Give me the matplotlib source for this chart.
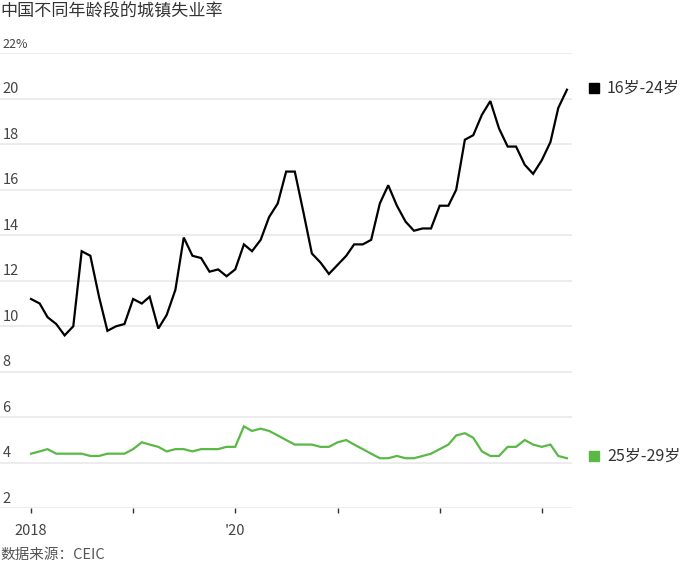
import numpy as np
import pandas as pd
import matplotlib
matplotlib.use("Agg")
import matplotlib.pyplot as plt
import matplotlib.dates as mdates
from matplotlib.transforms import offset_copy, blended_transform_factory

plt.rcParams['font.family'] = ['Noto Sans CJK SC', 'DejaVu Sans']

# 月度数据 2018-01 .. 2023-04
meses = pd.date_range('2018-01-01', periods=64, freq='MS')

jovens_16_24 = [
    11.2, 11.0, 10.4, 10.1, 9.6, 10.0, 13.3, 13.1, 11.3, 9.8, 10.0, 10.1,
    11.2, 11.0, 11.3, 9.9, 10.5, 11.6, 13.9, 13.1, 13.0, 12.4, 12.5, 12.2,
    12.5, 13.6, 13.3, 13.8, 14.8, 15.4, 16.8, 16.8, 15.0, 13.2, 12.8, 12.3,
    12.7, 13.1, 13.6, 13.6, 13.8, 15.4, 16.2, 15.3, 14.6, 14.2, 14.3, 14.3,
    15.3, 15.3, 16.0, 18.2, 18.4, 19.3, 19.9, 18.7, 17.9, 17.9, 17.1, 16.7,
    17.3, 18.1, 19.6, 20.4,
]
adultos_25_29 = [
    4.4, 4.5, 4.6, 4.4, 4.4, 4.4, 4.4, 4.3, 4.3, 4.4, 4.4, 4.4,
    4.6, 4.9, 4.8, 4.7, 4.5, 4.6, 4.6, 4.5, 4.6, 4.6, 4.6, 4.7,
    4.7, 5.6, 5.4, 5.5, 5.4, 5.2, 5.0, 4.8, 4.8, 4.8, 4.7, 4.7,
    4.9, 5.0, 4.8, 4.6, 4.4, 4.2, 4.2, 4.3, 4.2, 4.2, 4.3, 4.4,
    4.6, 4.8, 5.2, 5.3, 5.1, 4.5, 4.3, 4.3, 4.7, 4.7, 5.0, 4.8,
    4.7, 4.8, 4.3, 4.2,
]
series = [
    ('16岁-24岁', jovens_16_24, '#000000'),
    ('25岁-29岁', adultos_25_29, '#5ab946'),
]
yticks = [2, 4, 6, 8, 10, 12, 14, 16, 18, 20, 22]

titulo = '中国不同年龄段的城镇失业率'
fonte = '数据来源：CEIC'

fig = plt.figure(figsize=(6.99, 5.64), dpi=100)
ax = fig.add_axes([0.0, 0.0988, 0.8183, 0.8067])

for nome, valores, cor in series:
    ax.plot(meses, valores, color=cor, lw=1.6, solid_joinstyle='miter', zorder=3)

ax.set_ylim(2, 22)
inicio = meses[0] - pd.Timedelta(days=111)
fim = meses[-1] + pd.Timedelta(days=18)
ax.set_xlim(inicio, fim)

ax.set_yticks(yticks)
ax.yaxis.grid(True, color='#ebebeb', lw=1.3)
ax.set_axisbelow(True)
ax.tick_params(axis='y', length=0, labelleft=False)
for s in ax.spines.values():
    s.set_visible(False)

trans = blended_transform_factory(ax.transAxes, ax.transData)
for v in yticks:
    rotulo = f'{v}%' if v == yticks[-1] else str(v)
    ax.text(0.004, v + 0.12, rotulo, transform=trans, ha='left', va='bottom',
            fontsize=10.5 if v != yticks[-1] else 9, color='#444444')

anos = [d.year for d in pd.date_range('2018-01-01', '2023-01-01', freq='YS')]
rotulos_x = ['2018' if a == 2018 else ("'20" if a == 2020 else '') for a in anos]
ax.set_xticks([pd.Timestamp(f'{a}-01-01') for a in anos])
ax.set_xticklabels(rotulos_x)
ax.tick_params(axis='x', length=3.5, width=1, color='#333333', pad=8,
               labelsize=10.5, labelcolor='#444444')

for nome, valores, cor in series:
    x_fim, y_fim = meses[-1], valores[-1]
    t_marca = offset_copy(ax.transData, fig=fig, x=27, y=2, units='dots')
    ax.plot([x_fim], [y_fim], marker='s', ms=6.5, color=cor, ls='none',
            transform=t_marca, clip_on=False)
    t_texto = offset_copy(ax.transData, fig=fig, x=40, y=2, units='dots')
    ax.text(x_fim, y_fim, nome, transform=t_texto, ha='left', va='center',
            fontsize=11.5, color='#333333')

fig.text(0.0, 0.979, titulo, ha='left', va='center', fontsize=12.3, color='#333333')
fig.text(0.0, 0.016, fonte, ha='left', va='center', fontsize=10.5, color='#555555')

fig.savefig('out.png', dpi=100)
